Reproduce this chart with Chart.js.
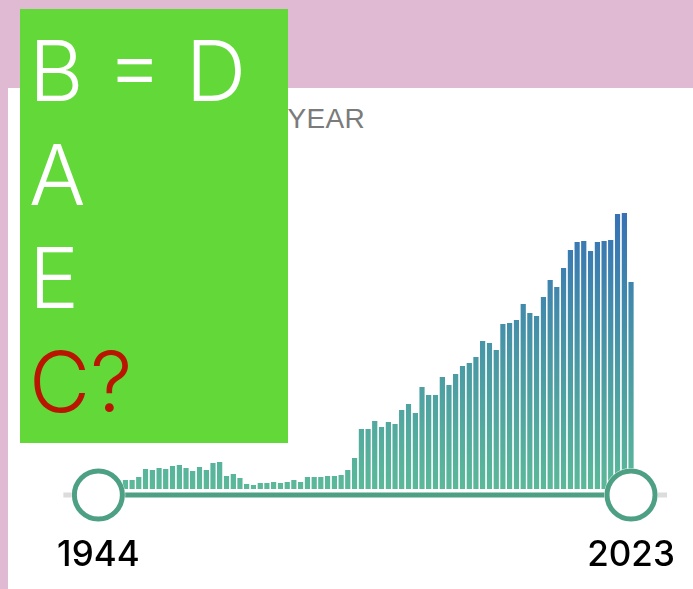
<!DOCTYPE html>
<html>
<head>
<meta charset="utf-8">
<script src="https://cdn.jsdelivr.net/npm/chart.js@4.4.1/dist/chart.umd.min.js"></script>
<style>
  html, body { margin: 0; padding: 0; }
  body {
    width: 693px; height: 589px; overflow: hidden;
    background: #e0bad3; position: relative;
    font-family: "Liberation Sans", Arial, sans-serif;
  }
  .card {
    position: absolute; left: 8px; top: 88px; right: 0; bottom: 0;
    background: #fff;
  }
  .title {
    position: absolute; right: 328px; top: 103px;
    font-size: 28px; color: #7b7b7b; white-space: nowrap; letter-spacing: 0.3px;
  }
  .plot { position: absolute; left: 0; top: 140px; width: 693px; height: 449px; }
  .note {
    position: absolute; left: 20px; top: 9px; width: 268px; height: 434px;
    background: #62d938; color: #fff; box-sizing: border-box;
    padding: 10px 0 0 9px;
    font-family: Inter, "Open Sans", sans-serif; font-weight: 300;
    font-size: 84px; line-height: 103.5px; white-space: nowrap;
  }
  .note .q { color: #b91500; }
</style>
</head>
<body>
<div class="card"></div>
<div class="title">RESULTS PER YEAR</div>
<div class="plot"><canvas id="chart" width="693" height="449"></canvas></div>
<div class="note">B = D<br>A<br>E<br><span class="q">C?</span></div>

<script>
// ----- data -----
const YEARS = [
  1944, 1945, 1946, 1947, 1948, 1949, 1950, 1951, 1952, 1953,
  1954, 1955, 1956, 1957, 1958, 1959, 1960, 1961, 1962, 1963,
  1964, 1965, 1966, 1967, 1968, 1969, 1970, 1971, 1972, 1973,
  1974, 1975, 1976, 1977, 1978, 1979, 1980, 1981, 1982, 1983,
  1984, 1985, 1986, 1987, 1988, 1989, 1990, 1991, 1992, 1993,
  1994, 1995, 1996, 1997, 1998, 1999, 2000, 2001, 2002, 2003,
  2004, 2005, 2006, 2007, 2008, 2009, 2010, 2011, 2012, 2013,
  2014, 2015, 2016, 2017, 2018, 2019, 2020, 2021, 2022, 2023,
];

const COUNTS = [
    9,  10,  11,  10,  10,  10,  13,  21,  20,  22,
   21,  24,  25,  22,  19,  23,  20,  27,  28,  14,
   16,  12,   6,   5,   7,   7,   8,   7,   8,  10,
    8,  13,  13,  13,  14,  14,  15,  20,  32,  61,
   61,  69,  63,  68,  66,  80,  86,  77, 103,  95,
   95, 113, 105, 116, 124, 127, 133, 149, 147, 140,
  166, 167, 170, 186, 177, 174, 193, 210, 203, 222,
  240, 248, 249, 239, 248, 249, 250, 276, 277, 208,
];

const Y_MAX = 280;

// ----- colours -----
const BAR_BOTTOM = "#5bb999";
const BAR_MID = "#4896a6";
const BAR_TOP = "#3570b6";
const HANDLE = "#4ea084";
const TRACK_OFF = "#dcdcdc";

function barGradient(ctx) {
  const area = ctx.chart.chartArea;
  if (!area) return BAR_BOTTOM;
  const g = ctx.chart.ctx.createLinearGradient(0, area.bottom, 0, area.top);
  g.addColorStop(0, BAR_BOTTOM);
  g.addColorStop(0.5, BAR_MID);
  g.addColorStop(1, BAR_TOP);
  return g;
}

// range slider drawn on top of the bars, handles sit on first/last year
const rangeSlider = {
  id: "rangeSlider",
  afterDatasetsDraw(chart) {
    const { ctx, chartArea, scales } = chart;
    const x0 = scales.x.getPixelForValue(0);
    const x1 = scales.x.getPixelForValue(YEARS.length - 1);
    const y = chartArea.bottom + 6;
    const r = 24;
    ctx.save();
    ctx.lineCap = "butt";
    // unselected track
    ctx.strokeStyle = TRACK_OFF;
    ctx.lineWidth = 5;
    ctx.beginPath();
    ctx.moveTo(x0 - 35, y);
    ctx.lineTo(x1 + 36, y);
    ctx.stroke();
    // selected track (with white edge)
    ctx.strokeStyle = "#fff";
    ctx.lineWidth = 9;
    ctx.beginPath();
    ctx.moveTo(x0, y);
    ctx.lineTo(x1, y);
    ctx.stroke();
    ctx.strokeStyle = HANDLE;
    ctx.lineWidth = 5;
    ctx.beginPath();
    ctx.moveTo(x0, y);
    ctx.lineTo(x1, y);
    ctx.stroke();
    // handles
    [x0, x1].forEach(cx => {
      ctx.beginPath();
      ctx.arc(cx, y, r + 3, 0, Math.PI * 2);
      ctx.fillStyle = "rgba(255,255,255,0.85)";
      ctx.fill();
      ctx.beginPath();
      ctx.arc(cx, y, r, 0, Math.PI * 2);
      ctx.fillStyle = "#fff";
      ctx.fill();
      ctx.lineWidth = 5;
      ctx.strokeStyle = HANDLE;
      ctx.stroke();
    });
    ctx.restore();
  },
};

new Chart(document.getElementById("chart"), {
  type: "bar",
  data: {
    labels: YEARS,
    datasets: [{
      data: COUNTS,
      backgroundColor: barGradient,
      borderColor: "rgba(255,255,255,0.35)",
      borderWidth: { top: 1, left: 0, right: 0, bottom: 0 },
      barPercentage: 0.82,
      categoryPercentage: 1,
    }],
  },
  options: {
    responsive: false,
    animation: false,
    devicePixelRatio: 1,
    layout: { padding: { top: 69, left: 95, right: 58.6, bottom: 10 } },
    scales: {
      x: {
        grid: { display: false },
        border: { display: false },
        ticks: {
          autoSkip: false, maxRotation: 0,
          padding: 37,
          color: "#000",
          font: { family: "Inter, 'Liberation Sans', sans-serif", size: 35, weight: "500" },
          callback: (v, i) => (i === 0 || i === YEARS.length - 1) ? String(YEARS[i]) : "",
        },
        // keep the plot area fixed: no extra room for the end labels
        afterFit: (s) => { s.height = 90; s.paddingLeft = 0; s.paddingRight = 0; },
      },
      y: { display: false, min: 0, max: Y_MAX },
    },
    plugins: { legend: { display: false }, tooltip: { enabled: false } },
  },
  plugins: [rangeSlider],
});
</script>
</body>
</html>
